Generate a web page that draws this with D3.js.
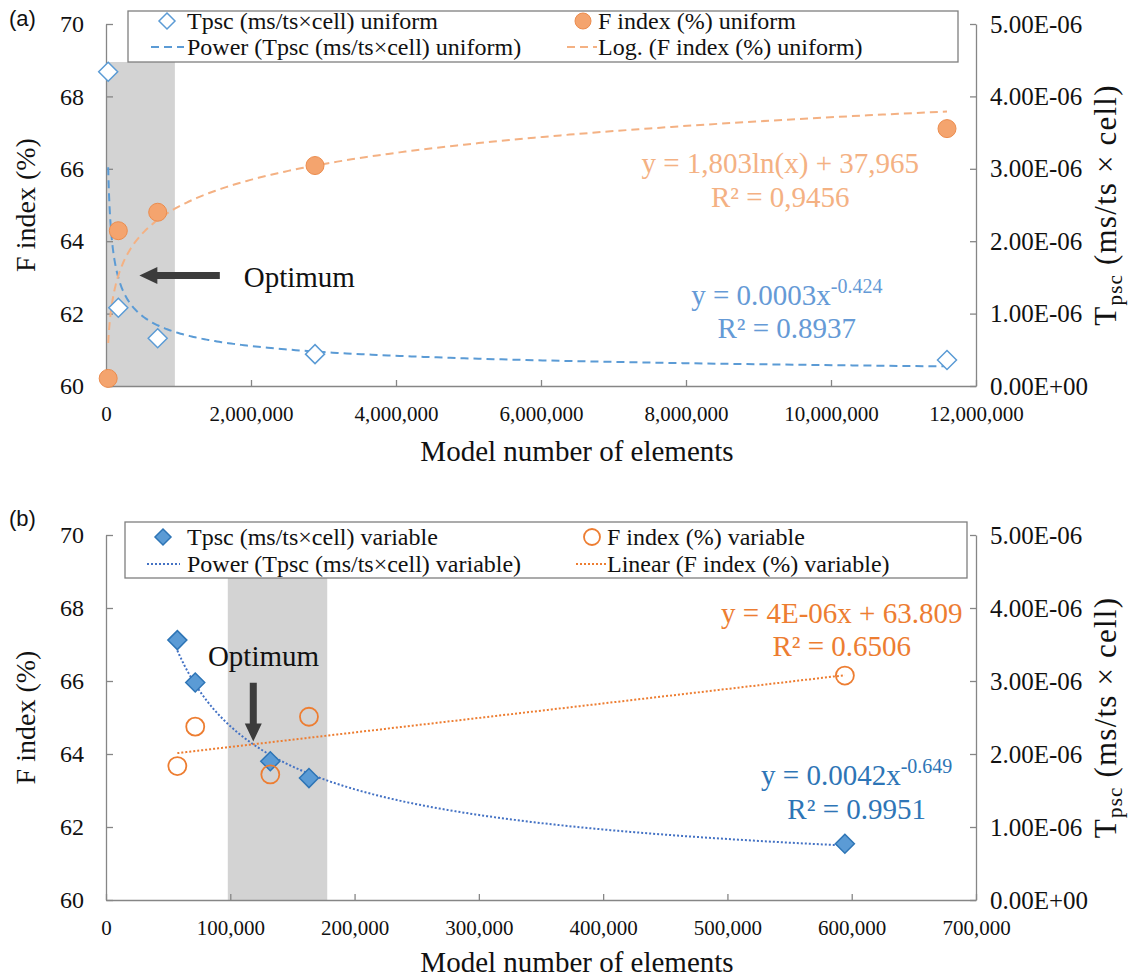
<!DOCTYPE html>
<html lang="en">
<head>
<meta charset="UTF-8">
<script src="https://d3js.org/d3.v7.min.js"></script>
<title>Tpsc and F index vs model number of elements</title>
<style>
  body { margin: 0; background: #fff; }
  svg { display: block; font-family: "Liberation Serif", "Times New Roman", serif; }
  .axis path, .axis line { stroke: #868686; stroke-width: 1.3; }
  .axis text { font-family: "Liberation Serif", serif; fill: #111; }
  .xaxis text { font-size: 21px; }
  .yaxis text { font-size: 24px; }
  .taxis text { font-size: 25px; }
  .legend text { font-size: 24px; fill: #111; }
</style>
</head>
<body>
<script>
// ---- data ----
// (a) uniform mesh
const uniElements = [30000, 170000, 713000, 2883000, 11600000];
const uniTpsc = [4.34e-6, 1.08e-6, 0.66e-6, 0.44e-6, 0.36e-6];
const uniFindex = [60.21, 64.29, 64.80, 66.09, 67.11];
const uniOptimum = [0, 950000];

// (b) variable mesh
const varElements = [57400, 71800, 132200, 163300, 594500];
const varTpsc = [3.56e-6, 2.98e-6, 1.90e-6, 1.67e-6, 0.77e-6];
const varFindex = [63.67, 64.75, 63.44, 65.02, 66.15];
const varOptimum = [98000, 178000];

// axes
const fTicks = [60, 62, 64, 66, 68, 70];
const tTicks = [0, 1e-6, 2e-6, 3e-6, 4e-6, 5e-6];
const uniXTicks = [0, 2e6, 4e6, 6e6, 8e6, 10e6, 12e6];
const varXTicks = [0, 1e5, 2e5, 3e5, 4e5, 5e5, 6e5, 7e5];

// legend + equation texts
const uniLegend = ["Tpsc (ms/ts×cell) uniform", "F index (%) uniform",
                   "Power (Tpsc (ms/ts×cell) uniform)", "Log. (F index (%) uniform)"];
const varLegend = ["Tpsc (ms/ts×cell) variable", "F index (%) variable",
                   "Power (Tpsc (ms/ts×cell) variable)", "Linear (F index (%) variable)"];
const uniFEq = ["y = 1,803ln(x) + 37,965", "R² = 0,9456"];
const uniTEq = ["y = 0.0003x", "-0.424", "R² = 0.8937"];
const varFEq = ["y = 4E-06x + 63.809", "R² = 0.6506"];
const varTEq = ["y = 0.0042x", "-0.649", "R² = 0.9951"];

const W = 1128, H = 978;
const svg = d3.select("body").append("svg").attr("width", W).attr("height", H);

// least squares helpers (Excel-style trendlines)
function linFit(xs, ys) {
    const mx = d3.mean(xs), my = d3.mean(ys);
    const a = d3.sum(xs, (x, i) => (x - mx) * (ys[i] - my)) / d3.sum(xs, x => (x - mx) ** 2);
    return { a, b: my - a * mx };
}
function powerFit(xs, ys) {
    const f = linFit(xs.map(Math.log), ys.map(Math.log));
    return x => Math.exp(f.b) * Math.pow(x, f.a);
}
function logFit(xs, ys) {
    const f = linFit(xs.map(Math.log), ys);
    return x => f.a * Math.log(x) + f.b;
}
function linearFit(xs, ys) {
    const f = linFit(xs, ys);
    return x => f.a * x + f.b;
}
function sampleX(x0, x1, n) {
    return d3.range(n + 1).map(i => x0 * Math.pow(x1 / x0, i / n));
}
function sciFmt(d) {
    if (d === 0) return "0.00E+00";
    const [m, e] = d.toExponential(2).split("e");
    const ex = +e;
    return m + "E" + (ex < 0 ? "-" : "+") + String(Math.abs(ex)).padStart(2, "0");
}
function diamond(r) {
    return `M0,${-r}L${r},0L0,${r}L${-r},0Z`;
}

function drawPanel(cfg) {
    const g = svg.append("g");
    const x = d3.scaleLinear().domain([0, cfg.xTicks[cfg.xTicks.length - 1]]).range([cfg.left, cfg.right]);
    const yF = d3.scaleLinear().domain([60, 70]).range([cfg.bottom, cfg.top]);
    const yT = d3.scaleLinear().domain([0, 5e-6]).range([cfg.bottom, cfg.top]);

    // optimum band
    g.append("rect")
        .attr("x", x(cfg.band[0]))
        .attr("y", cfg.legend.y + cfg.legend.h)
        .attr("width", x(cfg.band[1]) - x(cfg.band[0]))
        .attr("height", cfg.bottom - cfg.legend.y - cfg.legend.h)
        .attr("fill", "#d3d3d3");

    // axes
    g.append("g").attr("class", "axis yaxis")
        .attr("transform", `translate(${cfg.left},0)`)
        .call(d3.axisLeft(yF).tickValues(fTicks).tickSize(-7).tickSizeOuter(0).tickPadding(22));
    g.append("g").attr("class", "axis taxis")
        .attr("transform", `translate(${cfg.right},0)`)
        .call(d3.axisRight(yT).tickValues(tTicks).tickFormat(sciFmt).tickSize(-6).tickSizeOuter(0).tickPadding(14));
    g.append("g").attr("class", "axis xaxis")
        .attr("transform", `translate(0,${cfg.bottom})`)
        .call(d3.axisBottom(x).tickValues(cfg.xTicks).tickFormat(d3.format(",")).tickSize(-6).tickSizeOuter(0).tickPadding(20));
    g.selectAll(".axis .domain").attr("stroke", "#868686");

    // axis titles
    g.append("text")
        .attr("x", 577).attr("y", cfg.bottom + cfg.titleGap)
        .attr("text-anchor", "middle").attr("font-size", 29).attr("fill", "#111")
        .text("Model number of elements");
    g.append("text")
        .attr("transform", `translate(35,${(cfg.top + cfg.bottom) / 2}) rotate(-90)`)
        .attr("text-anchor", "middle").attr("font-size", 28).attr("fill", "#111")
        .text("F index (%)");
    const rt = g.append("text")
        .attr("transform", `translate(1116,${(cfg.top + cfg.bottom) / 2}) rotate(-90)`)
        .attr("text-anchor", "middle").attr("font-size", 31).attr("fill", "#111")
        .attr("letter-spacing", 1.2);
    rt.append("tspan").text("T");
    rt.append("tspan").attr("font-size", 21).attr("dy", 6).text("psc");
    rt.append("tspan").attr("dy", -6).text(" (ms/ts × cell)");

    // panel tag
    g.append("text")
        .attr("x", 9).attr("y", cfg.tagY)
        .attr("font-family", "'Liberation Sans', Arial, sans-serif")
        .attr("font-size", 22).attr("fill", "#111")
        .text(cfg.tag);

    // trendlines
    const xs = cfg.elements;
    const xsamp = sampleX(d3.min(xs), d3.max(xs), 300);
    const tFit = powerFit(xs, cfg.tpsc);
    const fFit = cfg.fFitType === "log" ? logFit(xs, cfg.findex) : linearFit(xs, cfg.findex);

    g.append("path")
        .datum(xsamp)
        .attr("fill", "none")
        .attr("stroke", cfg.style.tLine)
        .attr("stroke-width", 2)
        .attr("stroke-dasharray", cfg.style.dash)
        .attr("d", d3.line().x(d => x(d)).y(d => yT(tFit(d))));
    g.append("path")
        .datum(xsamp)
        .attr("fill", "none")
        .attr("stroke", cfg.style.fLine)
        .attr("stroke-width", 2)
        .attr("stroke-dasharray", cfg.style.dash)
        .attr("d", d3.line().x(d => x(d)).y(d => yF(fFit(d))));

    // markers
    g.selectAll(".tpt")
        .data(xs.map((d, i) => [d, cfg.tpsc[i]]))
        .join("path")
        .attr("transform", d => `translate(${x(d[0])},${yT(d[1])})`)
        .attr("d", diamond(9.5))
        .attr("fill", cfg.style.tFill)
        .attr("stroke", cfg.style.tStroke)
        .attr("stroke-width", 1.5);
    g.selectAll(".fpt")
        .data(xs.map((d, i) => [d, cfg.findex[i]]))
        .join("circle")
        .attr("cx", d => x(d[0]))
        .attr("cy", d => yF(d[1]))
        .attr("r", 9)
        .attr("fill", cfg.style.fFill)
        .attr("stroke", cfg.style.fStroke)
        .attr("stroke-width", cfg.style.fWidth);

    // legend
    const L = cfg.legend;
    const lg = g.append("g").attr("class", "legend");
    lg.append("rect")
        .attr("x", L.x).attr("y", L.y).attr("width", L.w).attr("height", L.h)
        .attr("fill", "#fff").attr("stroke", "#7f7f7f").attr("stroke-width", 1.3);
    const rows = L.rows;
    lg.append("path")
        .attr("transform", `translate(${L.c1},${rows[0]})`)
        .attr("d", diamond(8))
        .attr("fill", cfg.style.tFill).attr("stroke", cfg.style.tStroke).attr("stroke-width", 1.5);
    lg.append("circle")
        .attr("cx", L.c2).attr("cy", rows[0]).attr("r", 8)
        .attr("fill", cfg.style.fFill).attr("stroke", cfg.style.fStroke).attr("stroke-width", cfg.style.fWidth);
    lg.append("line")
        .attr("x1", L.c1 - 16).attr("x2", L.c1 + 17).attr("y1", rows[1]).attr("y2", rows[1])
        .attr("stroke", cfg.style.tLine).attr("stroke-width", 2).attr("stroke-dasharray", cfg.style.dash);
    lg.append("line")
        .attr("x1", L.c2 - 16).attr("x2", L.c2 + 14).attr("y1", rows[1]).attr("y2", rows[1])
        .attr("stroke", cfg.style.fLine).attr("stroke-width", 2).attr("stroke-dasharray", cfg.style.dash);
    [[L.t1, rows[0], cfg.legendText[0]], [L.t2, rows[0], cfg.legendText[1]],
     [L.t1, rows[1], cfg.legendText[2]], [L.t2, rows[1], cfg.legendText[3]]].forEach(([tx, ty, s]) => {
        lg.append("text").attr("x", tx).attr("y", ty).attr("dy", "0.35em").text(s);
    });

    // equations
    const fe = cfg.fEqPos, te = cfg.tEqPos;
    g.append("text").attr("x", x(fe[0])).attr("y", yF(fe[1]))
        .attr("text-anchor", "middle").attr("font-size", 29).attr("fill", cfg.style.fText)
        .text(cfg.fEq[0]);
    g.append("text").attr("x", x(fe[0])).attr("y", yF(fe[2]))
        .attr("text-anchor", "middle").attr("font-size", 29).attr("fill", cfg.style.fText)
        .text(cfg.fEq[1]);
    const t1 = g.append("text").attr("x", x(te[0])).attr("y", yF(te[1]))
        .attr("text-anchor", "middle").attr("font-size", 29).attr("fill", cfg.style.tText);
    t1.append("tspan").text(cfg.tEq[0]);
    t1.append("tspan").attr("font-size", 20).attr("dy", -12).text(cfg.tEq[1]);
    g.append("text").attr("x", x(te[0])).attr("y", yF(te[2]))
        .attr("text-anchor", "middle").attr("font-size", 29).attr("fill", cfg.style.tText)
        .text(cfg.tEq[2]);

    // optimum annotation
    const o = cfg.optimum;
    g.append("text").attr("x", x(o.text[0])).attr("y", yF(o.text[1]))
        .attr("text-anchor", o.anchor).attr("font-size", 29).attr("fill", "#111")
        .text("Optimum");
    const ax0 = x(o.tail[0]), ay0 = yF(o.tail[1]);
    const ax1 = x(o.tip[0]), ay1 = yF(o.tip[1]);
    const ang = Math.atan2(ay1 - ay0, ax1 - ax0);
    const len = Math.hypot(ax1 - ax0, ay1 - ay0);
    const hl = 18, hw = 8.5, sw = 3.5;
    g.append("path")
        .attr("transform", `translate(${ax0},${ay0}) rotate(${ang * 180 / Math.PI})`)
        .attr("d", `M0,${-sw}L${len - hl},${-sw}L${len - hl},${-hw}L${len},0L${len - hl},${hw}L${len - hl},${sw}L0,${sw}Z`)
        .attr("fill", "#3c3c3c");
}

drawPanel({
    tag: "(a)", tagY: 26, titleGap: 75,
    top: 24, bottom: 386, left: 106, right: 976,
    xTicks: uniXTicks, band: uniOptimum,
    elements: uniElements, tpsc: uniTpsc, findex: uniFindex, fFitType: "log",
    legendText: uniLegend,
    legend: { x: 128, y: 11, w: 830, h: 51, rows: [21, 47], c1: 167, t1: 187, c2: 583, t2: 598 },
    style: {
        dash: "8,5",
        tLine: "#5b9bd5", tFill: "#fff", tStroke: "#5b9bd5",
        fLine: "#f4b183", fFill: "#f4a46e", fStroke: "#ec8c4d", fWidth: 1,
        fText: "#f4b183", tText: "#659ad6"
    },
    fEq: uniFEq, tEq: uniTEq,
    fEqPos: [9.3e6, 65.88, 64.94],
    tEqPos: [9.39e6, 62.24, 61.33],
    optimum: { text: [1.9e6, 62.73], anchor: "start", tail: [1.57e6, 63.05], tip: [0.46e6, 63.05] }
});

drawPanel({
    tag: "(b)", tagY: 526, titleGap: 72,
    top: 535, bottom: 900, left: 106, right: 976,
    xTicks: varXTicks, band: varOptimum,
    elements: varElements, tpsc: varTpsc, findex: varFindex, fFitType: "linear",
    legendText: varLegend,
    legend: { x: 125, y: 522, w: 842, h: 56, rows: [537, 564], c1: 163, t1: 187, c2: 592, t2: 607 },
    style: {
        dash: "2,2",
        tLine: "#4472c4", tFill: "#5b9bd5", tStroke: "#2e75b6",
        fLine: "#ed7d31", fFill: "none", fStroke: "#ed7d31", fWidth: 1.8,
        fText: "#ed7d31", tText: "#2e75b6"
    },
    fEq: varFEq, tEq: varTEq,
    fEqPos: [592000, 67.59, 66.68],
    tEqPos: [604000, 63.15, 62.22],
    optimum: { text: [126700, 66.41], anchor: "middle", tail: [118500, 65.95], tip: [118500, 64.34] }
});
</script>
</body>
</html>
